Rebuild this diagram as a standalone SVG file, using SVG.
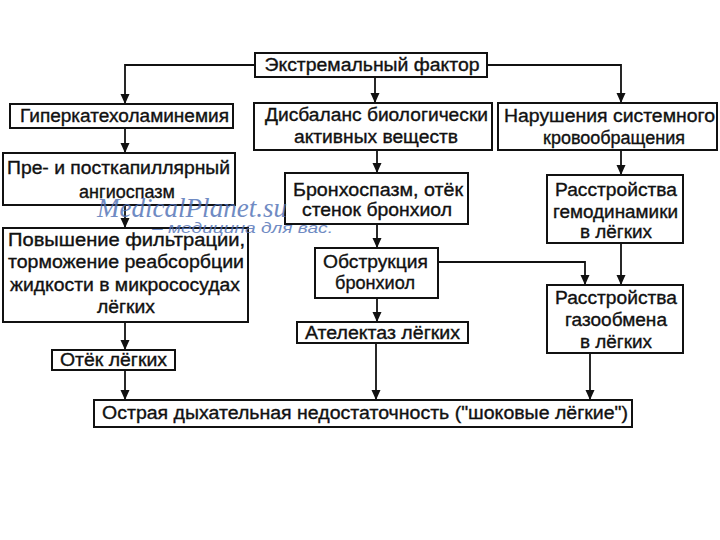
<svg xmlns="http://www.w3.org/2000/svg" width="720" height="540" viewBox="0 0 720 540">
<defs>
<marker id="ah" markerUnits="userSpaceOnUse" markerWidth="10" markerHeight="10" refX="10" refY="5" orient="auto">
<path d="M0,0.5 L10,5 L0,9.5 z" fill="#111"/>
</marker>
<style>
.box{fill:#fff;stroke:#111;stroke-width:2}
.t{font-family:"Liberation Sans",Arial,sans-serif;font-size:18px;fill:#111;stroke:#111;stroke-width:0.35;text-anchor:middle}
.c{fill:none;stroke:#111;stroke-width:1.8}
.wm1{font-family:"Liberation Serif","Times New Roman",serif;font-style:italic;font-size:27px;fill:#4d6fb5;opacity:0.8}
.wm2{font-family:"Liberation Sans",Arial,sans-serif;font-style:italic;font-size:15px;fill:#4d6fb5;opacity:0.8}
</style>
</defs>
<rect width="720" height="540" fill="#fff"/>
<g id="connectors">
<path class="c" d="M255,65 H125 V104" marker-end="url(#ah)"/>
<path class="c" d="M375,77 V103" marker-end="url(#ah)"/>
<path class="c" d="M487,65 H621 V103" marker-end="url(#ah)"/>
<path class="c" d="M125,128 V153" marker-end="url(#ah)"/>
<path class="c" d="M125,205 V228" marker-end="url(#ah)"/>
<path class="c" d="M125,322 V350" marker-end="url(#ah)"/>
<path class="c" d="M125,370 V400" marker-end="url(#ah)"/>
<path class="c" d="M377,150 V173" marker-end="url(#ah)"/>
<path class="c" d="M377,224 V248" marker-end="url(#ah)"/>
<path class="c" d="M377,298 V322" marker-end="url(#ah)"/>
<path class="c" d="M376,343 V400" marker-end="url(#ah)"/>
<path class="c" d="M438,262 H585 V285" marker-end="url(#ah)"/>
<path class="c" d="M621,150 V175" marker-end="url(#ah)"/>
<path class="c" d="M621,243 V285" marker-end="url(#ah)"/>
<path class="c" d="M590,353 V400" marker-end="url(#ah)"/>
</g>
<g id="n0"><rect class="box" x="255" y="53" width="232" height="24"/>
<text class="t" x="372" y="71" textLength="215" lengthAdjust="spacingAndGlyphs">Экстремальный фактор</text></g>
<g id="n1"><rect class="box" x="10" y="104" width="223" height="24"/>
<text class="t" x="124.5" y="122" textLength="209" lengthAdjust="spacingAndGlyphs">Гиперкатехоламинемия</text></g>
<g id="n2"><rect class="box" x="254" y="103" width="238" height="47"/>
<text class="t" x="376.5" y="121" textLength="223" lengthAdjust="spacingAndGlyphs">Дисбаланс биологически</text>
<text class="t" x="376" y="143" textLength="164" lengthAdjust="spacingAndGlyphs">активных веществ</text></g>
<g id="n3"><rect class="box" x="498" y="103" width="219" height="47"/>
<text class="t" x="609.5" y="122" textLength="211" lengthAdjust="spacingAndGlyphs">Нарушения системного</text>
<text class="t" x="614" y="144">кровообращения</text></g>
<g id="n4"><rect class="box" x="3" y="153" width="232" height="52"/>
<text class="t" x="118.5" y="174" textLength="223" lengthAdjust="spacingAndGlyphs">Пре- и посткапиллярный</text>
<text class="t" x="127" y="198">ангиоспазм</text></g>
<g id="n5"><rect class="box" x="3" y="228" width="245" height="94"/>
<text class="t" x="126.5" y="246" textLength="237" lengthAdjust="spacingAndGlyphs">Повышение фильтрации,</text>
<text class="t" x="126" y="268" textLength="236" lengthAdjust="spacingAndGlyphs">торможение реабсорбции</text>
<text class="t" x="125" y="291" textLength="230" lengthAdjust="spacingAndGlyphs">жидкости в микрососудах</text>
<text class="t" x="126" y="313" textLength="58" lengthAdjust="spacingAndGlyphs">лёгких</text></g>
<g id="n6"><rect class="box" x="52" y="350" width="123" height="20"/>
<text class="t" x="113.5" y="366" textLength="107" lengthAdjust="spacingAndGlyphs">Отёк лёгких</text></g>
<g id="n7"><rect class="box" x="285" y="173" width="183" height="51"/>
<text class="t" x="378" y="196" textLength="170" lengthAdjust="spacingAndGlyphs">Бронхоспазм, отёк</text>
<text class="t" x="377" y="216" textLength="150" lengthAdjust="spacingAndGlyphs">стенок бронхиол</text></g>
<g id="n8"><rect class="box" x="315" y="248" width="123" height="50"/>
<text class="t" x="375.5" y="268" textLength="105" lengthAdjust="spacingAndGlyphs">Обструкция</text>
<text class="t" x="375" y="289" textLength="80" lengthAdjust="spacingAndGlyphs">бронхиол</text></g>
<g id="n9"><rect class="box" x="297" y="322" width="171" height="21"/>
<text class="t" x="382.5" y="339" textLength="155" lengthAdjust="spacingAndGlyphs">Ателектаз лёгких</text></g>
<g id="n10"><rect class="box" x="547" y="175" width="136" height="68"/>
<text class="t" x="616" y="196" textLength="122" lengthAdjust="spacingAndGlyphs">Расстройства</text>
<text class="t" x="615.5" y="218" textLength="125" lengthAdjust="spacingAndGlyphs">гемодинамики</text>
<text class="t" x="616" y="238" textLength="72" lengthAdjust="spacingAndGlyphs">в лёгких</text></g>
<g id="n11"><rect class="box" x="547" y="285" width="136" height="68"/>
<text class="t" x="616" y="304" textLength="122" lengthAdjust="spacingAndGlyphs">Расстройства</text>
<text class="t" x="616" y="326" textLength="102" lengthAdjust="spacingAndGlyphs">газообмена</text>
<text class="t" x="616" y="348" textLength="72" lengthAdjust="spacingAndGlyphs">в лёгких</text></g>
<g id="n12"><rect class="box" x="94" y="400" width="538" height="27"/>
<text class="t" x="365" y="419" textLength="526" lengthAdjust="spacingAndGlyphs">Острая дыхательная недостаточность ("шоковые лёгкие")</text></g>
<g id="watermark">
<text class="wm1" x="97" y="217" textLength="190" lengthAdjust="spacingAndGlyphs">MedicalPlanet.su</text>
<text class="wm2" x="152" y="233" textLength="181" lengthAdjust="spacingAndGlyphs">– медицина для вас.</text>
</g>
</svg>
